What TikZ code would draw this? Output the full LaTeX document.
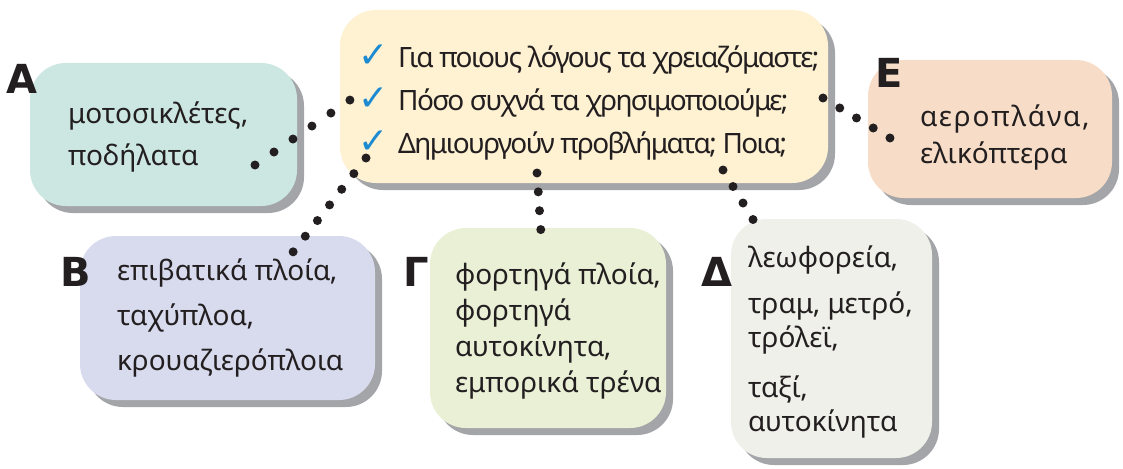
\documentclass[tikz,border=0pt]{standalone}
\usepackage{fontspec}
\setmainfont{Noto Sans}
\newfontfamily\symfont{DejaVu Sans}
\newfontfamily\labelfont{DejaVu Sans}
\newfontfamily\tightfont{Noto Sans}[LetterSpace=-5.8]
\newfontfamily\widefont{Noto Sans}[LetterSpace=7]
\usepackage{xcolor}
\usetikzlibrary{positioning,shadows}
\definecolor{ink}{HTML}{231F20}
\definecolor{tickblue}{HTML}{1B8AD1}
\definecolor{shadowgray}{HTML}{A4A5A9}
\definecolor{fillA}{HTML}{CCE7E1}
\definecolor{fillQ}{HTML}{FEF2D3}
\definecolor{fillE}{HTML}{F7DDC7}
\definecolor{fillB}{HTML}{D8DBEE}
\definecolor{fillG}{HTML}{E9F0D6}
\definecolor{fillD}{HTML}{EFF0EA}
\newcommand{\bluetick}{\smash{\fontsize{36pt}{36pt}\symfont\color{tickblue}✓}\hspace{10pt}}
\tikzset{
    topic-box/.style = {rectangle, rounded corners=36pt, inner sep=0pt,
        drop shadow={shadow xshift=7pt, shadow yshift=-7pt, fill=shadowgray, opacity=1}},
    box-text/.style = {align=left, inner sep=0pt, text=ink, font=\fontsize{28pt}{42pt}\selectfont},
    letter-label/.style = {text=ink, inner sep=0pt, font=\fontsize{40pt}{40pt}\labelfont\bfseries},
    dot-line/.style = {ink, line width=9pt, line cap=round, dash pattern=on 0pt off #1},
    dot-line/.default = 19.5pt,
}

\begin{document}
\begin{tikzpicture}[x=1pt, y=-1pt]
\useasboundingbox (0,0) rectangle (1123,468);
% boxes
\node[topic-box, fill=fillQ, minimum width=488pt, minimum height=173pt] (q-box) at (584,96.5) {};
\node[topic-box, fill=fillA, minimum width=267pt, minimum height=143pt] (a-box) at (163.5,134.5) {};
\node[topic-box, fill=fillE, minimum width=244pt, minimum height=138pt] (e-box) at (990,129) {};
\node[topic-box, fill=fillB, minimum width=295pt, minimum height=164pt] (b-box) at (227.5,318) {};
\node[topic-box, fill=fillG, minimum width=236pt, minimum height=200pt] (g-box) at (548,328) {};
\node[topic-box, fill=fillD, minimum width=201pt, minimum height=239pt] (d-box) at (831.5,338.5) {};

% texts
\node[box-text, right=18pt of q-box.west, yshift=-6pt, font=\fontsize{28pt}{43pt}\tightfont] (q-text) {\bluetick Για ποιους λόγους τα χρειαζόμαστε;\\
    \bluetick Πόσο συχνά τα χρησιμοποιούμε;\\
    \bluetick Δημιουργούν προβλήματα; Ποια;};
\node[box-text, right=38pt of a-box.west, yshift=-2pt] (a-text) {μοτοσικλέτες,\\ ποδήλατα};
\node[box-text, right=52pt of e-box.west, yshift=-8pt, font=\fontsize{28pt}{37pt}\selectfont] (e-text) {{\widefont αεροπλάνα,}\\ ελικόπτερα};
\node[box-text, right=37pt of b-box.west, font=\fontsize{28pt}{45pt}\selectfont] (b-text) {επιβατικά πλοία,\\ ταχύπλοα,\\ κρουαζιερόπλοια};
\node[box-text, right=25pt of g-box.west, yshift=-3pt, font=\fontsize{28pt}{36pt}\selectfont] (g-text) {φορτηγά πλοία,\\ φορτηγά\\ αυτοκίνητα,\\ εμπορικά τρένα};
\node[box-text, right=17pt of d-box.west, yshift=-3pt, font=\fontsize{28pt}{34pt}\selectfont] (d-text) {λεωφορεία,\\[12pt] τραμ, μετρό,\\ τρόλεϊ,\\[16pt] ταξί,\\ αυτοκίνητα};

% letters
\node[letter-label] (a-label) at (22,79) {Α};
\node[letter-label] (e-label) at (889,73) {Ε};
\node[letter-label] (b-label) at (76,272) {Β};
\node[letter-label] (g-label) at (416,272) {Γ};
\node[letter-label] (d-label) at (717,272) {Δ};

% dotted connectors
\coordinate (a-start) at (255,165);
\coordinate (a-end) at (350,100);
\coordinate (b-start) at (366,158);
\coordinate (b-end) at (293,252);
\coordinate (g-start) at (537,173);
\coordinate (g-end) at (542,248);
\coordinate (d-start) at (723,170);
\coordinate (d-end) at (763,236);
\coordinate (e-start) at (823,98);
\coordinate (e-end) at (890,138);
\draw[dot-line=23pt] (a-start) -- (a-end);
\draw[dot-line=19.8pt] (b-start) -- (b-end);
\draw[dot-line=18.9pt] (g-start) -- (g-end);
\draw[dot-line=19.3pt] (d-start) -- (d-end);
\draw[dot-line] (e-start) -- (e-end);
\end{tikzpicture}
\end{document}
